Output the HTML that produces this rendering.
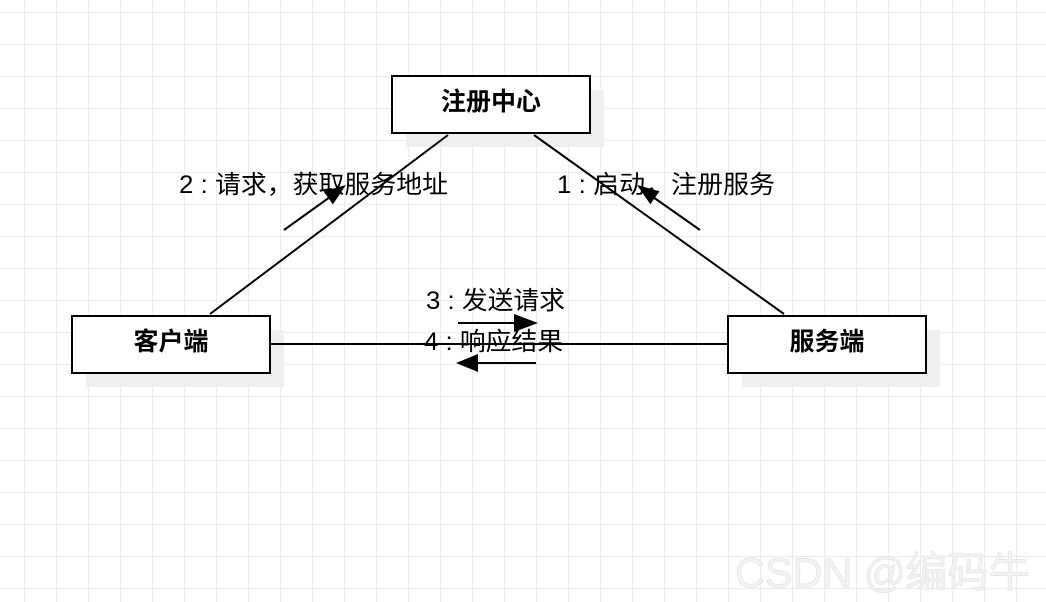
<!DOCTYPE html>
<html>
<head>
<meta charset="utf-8">
<style>
html,body{margin:0;padding:0;background:#fff;}
svg{display:block;}
text{font-family:"Liberation Sans","Noto Sans CJK SC",sans-serif;}
</style>
</head>
<body>
<svg width="1046" height="602" viewBox="0 0 1046 602" xmlns="http://www.w3.org/2000/svg">
<defs>
<pattern id="g" x="24" y="12" width="32" height="32" patternUnits="userSpaceOnUse">
<path d="M0.5 0V32M0 0.5H32" stroke="#ebebeb" stroke-width="1" fill="none"/>
</pattern>
</defs>
<rect width="1046" height="602" fill="#fff"/>
<rect width="1046" height="602" fill="url(#g)"/>

<!-- shadows -->
<rect x="406" y="90" width="198" height="57" fill="#efefef"/>
<rect x="86" y="330" width="198" height="57" fill="#efefef"/>
<rect x="742" y="330" width="198" height="57" fill="#efefef"/>

<!-- connectors -->
<line x1="448" y1="135" x2="210" y2="314" stroke="#000" stroke-width="2"/>
<line x1="534" y1="135" x2="784" y2="314" stroke="#000" stroke-width="2"/>
<line x1="271" y1="344" x2="727" y2="344" stroke="#000" stroke-width="2"/>

<!-- boxes -->
<rect x="392" y="76" width="198" height="57" fill="#fff" stroke="#000" stroke-width="2"/>
<rect x="72" y="316" width="198" height="57" fill="#fff" stroke="#000" stroke-width="2"/>
<rect x="728" y="316" width="198" height="57" fill="#fff" stroke="#000" stroke-width="2"/>

<text x="491" y="110" font-size="25" font-weight="bold" text-anchor="middle" fill="#000">注册中心</text>
<text x="171" y="350" font-size="25" font-weight="bold" text-anchor="middle" fill="#000">客户端</text>
<text x="827" y="350" font-size="25" font-weight="bold" text-anchor="middle" fill="#000">服务端</text>

<!-- labels -->
<text x="179" y="193" font-size="25" fill="#000" textLength="269" lengthAdjust="spacingAndGlyphs">2 : 请求，获取服务地址</text>
<text x="557" y="193" font-size="25" fill="#000" textLength="218" lengthAdjust="spacingAndGlyphs">1 : 启动，注册服务</text>
<text x="426" y="309" font-size="25" fill="#000" textLength="139" lengthAdjust="spacingAndGlyphs">3 : 发送请求</text>
<text x="424" y="350" font-size="25" fill="#000" textLength="139" lengthAdjust="spacingAndGlyphs">4 : 响应结果</text>

<!-- message arrows -->
<line x1="284" y1="230" x2="330" y2="197" stroke="#000" stroke-width="2"/>
<polygon points="346,185 332.9,204.4 323.5,191.4" fill="#000"/>

<line x1="700" y1="230" x2="653" y2="197" stroke="#000" stroke-width="2"/>
<polygon points="637,185 659.5,191.3 650.3,204.3" fill="#000"/>

<line x1="458" y1="323" x2="516" y2="323" stroke="#000" stroke-width="2"/>
<polygon points="538,323 514,314 514,332" fill="#000"/>

<line x1="536" y1="363" x2="476" y2="363" stroke="#000" stroke-width="2"/>
<polygon points="456,363 478,354 478,372" fill="#000"/>

<!-- watermark -->
<text x="735" y="587" font-size="42" fill="#f3f3f3" stroke="#e4e4e4" stroke-width="0.8" textLength="295" lengthAdjust="spacingAndGlyphs">CSDN @编码牛</text>
</svg>
</body>
</html>
